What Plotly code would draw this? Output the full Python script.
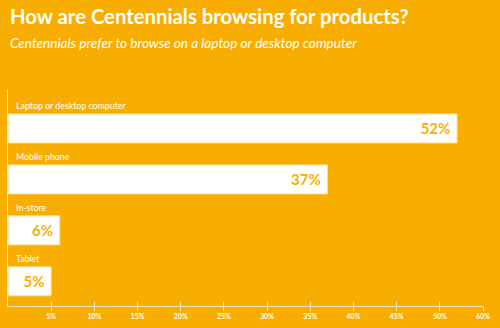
import plotly.graph_objects as go

categories = ["Laptop or desktop computer", "Mobile phone", "In-store", "Tablet"]
values = [52, 37, 6, 5]
value_labels = ["52%", "37%", "6%", "5%"]
tick_vals = [5, 10, 15, 20, 25, 30, 35, 40, 45, 50, 55]
tick_text = ["5%", "10%", "15%", "20%", "25%", "30%", "35%", "40%", "45%", "50%", "60%"]

title = "How are Centennials browsing for products?"
subtitle = "Centennials prefer to browse on a laptop or desktop computer"

ORANGE = "#F8AE00"
PALE = "rgba(255,255,255,0.75)"

fig = go.Figure()
fig.add_trace(go.Bar(
    x=values, y=categories, orientation="h",
    marker=dict(color="white", line=dict(color="#FCDD8A", width=1)),
    width=0.57,
    text=[t + "\u2009\u2009" for t in value_labels],
    textposition="inside", insidetextanchor="end",
    textfont=dict(family="Lato", size=15, color=ORANGE, weight="bold"),
    constraintext="none",
    hoverinfo="skip",
))
# invisible helper trace for the upper half of the crossing ticks
fig.add_trace(go.Scatter(x=[0], y=[categories[0]], mode="none", xaxis="x2",
                         showlegend=False, hoverinfo="skip"))

annotations = []
for c in categories:
    annotations.append(dict(
        x=0, y=c, xref="x", yref="y", text=c, showarrow=False,
        xanchor="left", yanchor="middle", xshift=6, yshift=23,
        font=dict(family="Lato", size=8.8, color="white"),
    ))
annotations.append(dict(
    x=0.0, y=1.336, xref="paper", yref="paper", text="<b>" + title + "</b>",
    showarrow=False, xanchor="left", yanchor="middle",
    font=dict(family="Lato", size=20.3, color="white"),
))
annotations.append(dict(
    x=0.0, y=1.214, xref="paper", yref="paper", text="<i>" + subtitle + "</i>",
    showarrow=False, xanchor="left", yanchor="middle",
    font=dict(family="Lato", size=13.6, color="white"),
))

fig.update_layout(
    width=500, height=328,
    margin=dict(l=7.5, r=16.5, t=89, b=19),
    paper_bgcolor=ORANGE, plot_bgcolor=ORANGE,
    showlegend=False,
    bargap=0.43,
    annotations=annotations,
    xaxis=dict(range=[0, 55], showgrid=False, zeroline=False,
               showline=True, linecolor=PALE, linewidth=1,
               ticks="outside", ticklen=4, tickcolor=PALE, tickwidth=1,
               tickvals=tick_vals, ticktext=tick_text,
               tickfont=dict(family="Lato", size=7, color="white", weight="bold")),
    xaxis2=dict(range=[0, 55], overlaying="x", anchor="y", side="bottom",
                showgrid=False, zeroline=False, showline=False,
                ticks="inside", ticklen=4, tickcolor=PALE, tickwidth=1,
                tickvals=tick_vals, showticklabels=False),
    yaxis=dict(range=[3.484, -0.774], showgrid=False, zeroline=False,
               showline=True, linecolor=PALE, linewidth=1,
               showticklabels=False, ticks=""),
)

fig.write_html("out.html")
